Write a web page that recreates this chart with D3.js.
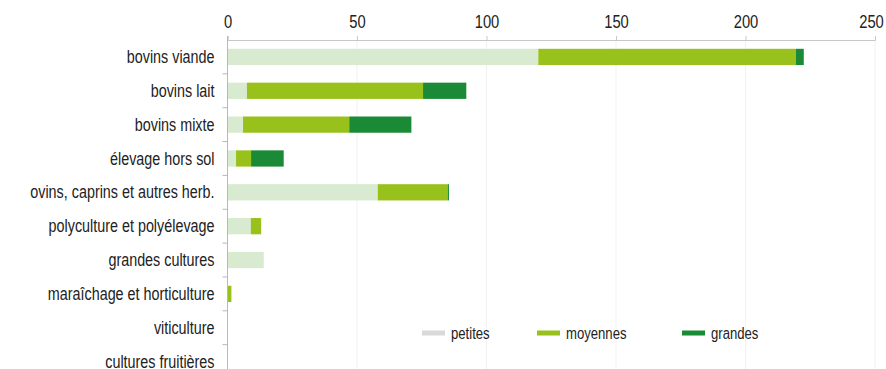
<!DOCTYPE html>
<html><head><meta charset="utf-8">
<script src="https://cdn.jsdelivr.net/npm/d3@7"></script>
<style>body{margin:0;background:#fff}svg{display:block}text{font-family:"Liberation Sans Narrow","Arial Narrow","Liberation Sans",Arial,sans-serif;fill:#222}</style>
</head><body><svg id="c" width="886" height="369"></svg>
<script>
const categories = ["bovins viande","bovins lait","bovins mixte","élevage hors sol","ovins, caprins et autres herb.","polyculture et polyélevage","grandes cultures","maraîchage et horticulture","viticulture","cultures fruitières"];
const petites  = [120, 7.5, 6, 3.3, 58, 9, 14, 0, 0, 0];
const moyennes = [99.5, 68, 41, 5.8, 27, 4, 0, 1.5, 0, 0];
const grandes  = [3, 16.7, 24, 12.6, 0.5, 0, 0, 0, 0, 0];
const seriesNames = ["petites","moyennes","grandes"];
const xTicks = [0,50,100,150,200,250];

const colors = {petites:"#d8ead0", moyennes:"#98c21b", grandes:"#1b8a36"};
const legendColors = {petites:"#d9d9d9", moyennes:"#98c21b", grandes:"#1b8a36"};
const SX = 0.82;

const svg = d3.select("#c");
const x = d3.scaleLinear().domain([0,250]).range([227.5,875]);
const y = d3.scaleBand().domain(categories).range([40,378.5]).paddingInner(0.52).paddingOuter(0.26);

const data = categories.map((c,i)=>({cat:c, petites:petites[i], moyennes:moyennes[i], grandes:grandes[i]}));
const stack = d3.stack().keys(seriesNames)(data);

// gridlines
svg.append("g").selectAll("line").data(xTicks.slice(1)).join("line")
  .attr("x1",d=>x(d)).attr("x2",d=>x(d)).attr("y1",40).attr("y2",369)
  .attr("stroke","#f1f1f1").attr("stroke-width",1);

// bars
svg.append("g").selectAll("g").data(stack).join("g")
  .attr("fill",d=>colors[d.key])
  .selectAll("rect").data(d=>d).join("rect")
  .attr("x",d=>x(d[0])).attr("width",d=>Math.max(0,x(d[1])-x(d[0])))
  .attr("y",d=>y(d.data.cat)).attr("height",y.bandwidth());

// top axis
const xa = svg.append("g").attr("transform","translate(0,40)")
  .call(d3.axisTop(x).tickValues(xTicks).tickSize(4).tickPadding(8));
xa.select(".domain").attr("stroke","#c8c8c8");
xa.selectAll(".tick line").attr("stroke","#c8c8c8");
xa.selectAll("text").attr("font-size",18).style("fill","#222")
  .attr("transform",d=>`translate(${d===250?-4:0},0) scale(${SX},1)`);

// left axis
const ya = svg.append("g").attr("transform","translate(227.5,0)");
ya.append("line").attr("x1",0).attr("x2",0).attr("y1",36).attr("y2",369).attr("stroke","#b8b8b8");
ya.selectAll("line.t").data(categories.slice(1)).join("line").attr("class","t")
  .attr("x1",-5).attr("x2",0).attr("y1",d=>y(d)-y.step()*y.paddingInner()/2).attr("y2",d=>y(d)-y.step()*y.paddingInner()/2)
  .attr("stroke","#b8b8b8");
ya.selectAll("text").data(categories).join("text")
  .attr("transform",d=>`translate(-13,${y(d)+y.bandwidth()/2}) scale(${SX},1)`)
  .attr("dy","0.35em")
  .attr("text-anchor","end").attr("font-size",17.5).text(d=>d);

// legend
const legX = [422, 537, 682];
const lg = svg.append("g");
seriesNames.forEach((s,i)=>{
  lg.append("rect").attr("x",legX[i]).attr("y",330.5).attr("width",23).attr("height",5).attr("fill",legendColors[s]);
  lg.append("text").attr("transform",`translate(${legX[i]+29},333) scale(${SX},1)`)
    .attr("dy","0.35em").attr("font-size",16).text(s);
});
</script></body></html>
